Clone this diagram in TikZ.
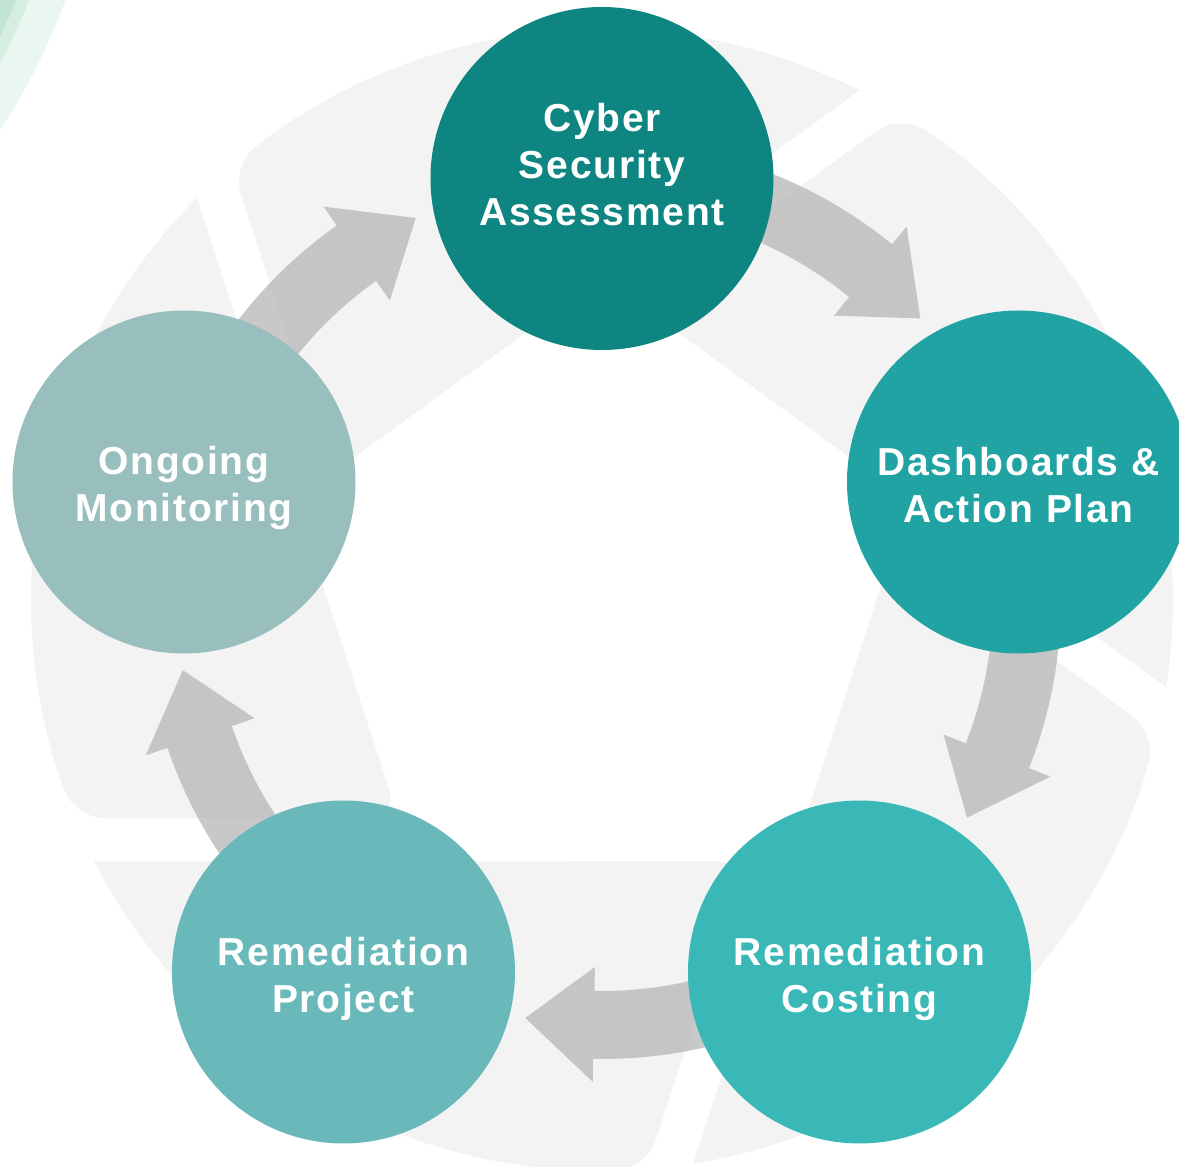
\documentclass[tikz,border=0pt]{standalone}
\usepackage{fontspec}
\newfontfamily\lbl{Liberation Sans}[LetterSpace=4.5]
\usetikzlibrary{calc}

\definecolor{bladegrey}{HTML}{F3F3F3}
\definecolor{flowgrey}{HTML}{BABABA}
\definecolor{leafA}{HTML}{EAF6F0}
\definecolor{leafB}{HTML}{D6EEE2}
\definecolor{leafC}{HTML}{C2E4D3}
\definecolor{stageA}{HTML}{0F8581}
\definecolor{stageB}{HTML}{20A3A2}
\definecolor{stageC}{HTML}{3AB8B7}
\definecolor{stageD}{HTML}{69B9BA}
\definecolor{stageE}{HTML}{98BEBD}

\tikzset{
  stage/.style={circle, inner sep=0pt, minimum size=343pt},
  stagetext/.style={text=white, align=center, inner sep=0pt,
    font=\lbl\bfseries\fontsize{39}{47}\selectfont},
  bladefill/.style={fill=bladegrey},
  flowfill/.style={fill=flowgrey, fill opacity=0.8},
}

% one aperture blade, drawn for the left position and turned by #1 degrees
\newcommand\apblade[1]{%
  \begin{scope}[rotate=#1]
    \fill[bladefill] (-203.6,-218) -- (135.2:571pt)
      arc[start angle=135.2, end angle=197, radius=571pt]
      [rounded corners=30pt] -- (202.45:571pt) -- cycle;
  \end{scope}}

% curved flow arrow around the ring; #1 = angle of the tip
\newcommand\flowarrow[1]{%
  \fill[flowfill] ({#1+42}:459pt)
    arc[start angle={#1+42}, end angle={#1+9.3}, radius=459pt]
    -- ({#1+9.3}:482pt) -- (#1:425pt) -- ({#1+9.3}:367pt)
    -- ({#1+9.3}:391pt)
    arc[start angle={#1+9.3}, end angle={#1+42}, radius=391pt] -- cycle;}

\begin{document}
\begin{tikzpicture}[x=1pt, y=1pt]
  \useasboundingbox (-602,-567) rectangle (577,600);
  \begin{scope}
    \clip (-602,-567) rectangle (577,600);

    % decorative green bands in the corner
    \fill[leafA] (-1169.5,835) circle[radius=675pt];
    \fill[leafB] (-1169.5,835) circle[radius=641pt];
    \fill[leafC] (-1169.5,835) circle[radius=629pt];

    % background aperture
    \apblade{-144}
    \apblade{-72}
    \apblade{0}
    \apblade{72}
    \apblade{144}

    % flow arrows
    \flowarrow{41.5}
    \flowarrow{329.2}
    \flowarrow{259.6}
    \flowarrow{189.5}
    \flowarrow{116.0}

    % stages
    \node[stage, fill=stageA] (assess) at (0,421.5) {};
    \node[stage, fill=stageB] (dash)   at (416.5,118) {};
    \node[stage, fill=stageC] (cost)   at (257.5,-372) {};
    \node[stage, fill=stageD] (proj)   at (-258.5,-372) {};
    \node[stage, fill=stageE] (watch)  at (-418,118) {};

    \node[stagetext] (assess-t) at ([yshift=13.5pt]assess.center) {Cyber\\Security\\Assessment};
    \node[stagetext] (dash-t)   at ([yshift=-3.5pt]dash.center) {Dashboards \&\\Action Plan};
    \node[stagetext] (cost-t)   at ([yshift=-7pt]cost.center) {Remediation\\Costing};
    \node[stagetext] (proj-t)   at ([yshift=-7pt]proj.center) {Remediation\\Project};
    \node[stagetext] (watch-t)  at ([yshift=-6.5pt]watch.center) {Ongoing\\Monitoring};
  \end{scope}
\end{tikzpicture}
\end{document}
